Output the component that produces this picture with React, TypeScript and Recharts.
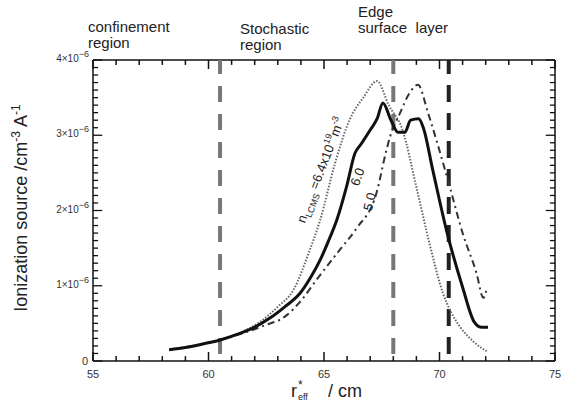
import { LineChart, Line, XAxis, YAxis, ReferenceLine, ReferenceDot } from 'recharts';

// values in units of 1e-6 cm^-3 A^-1, x in cm
const series64 = [
  { r: 58.3, v: 0.15 }, { r: 59.5, v: 0.21 }, { r: 60.5, v: 0.28 }, { r: 61.4, v: 0.38 },
  { r: 62.23, v: 0.52 }, { r: 63.0, v: 0.72 }, { r: 63.67, v: 0.94 }, { r: 64.39, v: 1.48 },
  { r: 64.83, v: 1.87 }, { r: 65.48, v: 2.63 }, { r: 66.1, v: 3.2 }, { r: 66.7, v: 3.5 },
  { r: 67.3, v: 3.72 }, { r: 67.8, v: 3.4 }, { r: 68.4, v: 3.07 }, { r: 69.0, v: 2.31 },
  { r: 69.6, v: 1.52 }, { r: 70.15, v: 0.9 }, { r: 70.5, v: 0.65 }, { r: 70.9, v: 0.45 },
  { r: 71.5, v: 0.25 }, { r: 72.1, v: 0.12 },
];

const series60 = [
  { r: 58.3, v: 0.15 }, { r: 59.0, v: 0.18 }, { r: 59.8, v: 0.23 }, { r: 60.5, v: 0.28 },
  { r: 61.3, v: 0.36 }, { r: 62.0, v: 0.45 }, { r: 62.66, v: 0.57 }, { r: 63.3, v: 0.72 },
  { r: 63.96, v: 0.9 }, { r: 64.4, v: 1.1 }, { r: 64.83, v: 1.34 }, { r: 65.2, v: 1.6 },
  { r: 65.55, v: 1.87 }, { r: 65.98, v: 2.32 }, { r: 66.34, v: 2.76 }, { r: 66.6, v: 2.88 },
  { r: 67.0, v: 3.07 }, { r: 67.3, v: 3.22 }, { r: 67.55, v: 3.43 }, { r: 67.9, v: 3.2 },
  { r: 68.2, v: 3.04 }, { r: 68.5, v: 3.04 }, { r: 68.75, v: 3.2 }, { r: 69.1, v: 3.22 },
  { r: 69.3, v: 3.1 }, { r: 69.7, v: 2.55 }, { r: 70.3, v: 1.74 }, { r: 71.0, v: 0.98 },
  { r: 71.5, v: 0.52 }, { r: 71.8, v: 0.45 }, { r: 72.1, v: 0.45 },
];

const series50 = [
  { r: 58.3, v: 0.15 }, { r: 60.5, v: 0.28 }, { r: 61.5, v: 0.37 }, { r: 62.4, v: 0.47 },
  { r: 63.31, v: 0.59 }, { r: 64.0, v: 0.8 }, { r: 64.68, v: 1.08 }, { r: 65.69, v: 1.48 },
  { r: 66.4, v: 1.76 }, { r: 67.27, v: 2.23 }, { r: 67.7, v: 2.8 }, { r: 67.86, v: 2.98 },
  { r: 68.3, v: 3.3 }, { r: 68.7, v: 3.56 }, { r: 69.07, v: 3.67 }, { r: 69.5, v: 3.3 },
  { r: 69.9, v: 2.9 }, { r: 70.45, v: 2.31 }, { r: 71.0, v: 1.7 }, { r: 71.6, v: 1.17 },
  { r: 71.9, v: 0.84 }, { r: 72.05, v: 0.97 },
];

const regionBounds = [60.5, 68.0, 70.4];

const xTicks = [55, 56, 57, 58, 59, 60, 61, 62, 63, 64, 65, 66, 67, 68, 69, 70, 71, 72, 73, 74, 75];
const yTicks = [
  0, 0.1, 0.2, 0.3, 0.4, 0.5, 0.6, 0.7, 0.8, 0.9, 1, 1.1, 1.2, 1.3, 1.4, 1.5, 1.6, 1.7, 1.8, 1.9,
  2, 2.1, 2.2, 2.3, 2.4, 2.5, 2.6, 2.7, 2.8, 2.9, 3, 3.1, 3.2, 3.3, 3.4, 3.5, 3.6, 3.7, 3.8, 3.9, 4,
];

const curveLabels = [
  { r: 64.83, v: 2.54, text: 'n64', angle: -69 },
  { r: 66.43, v: 2.45, text: '6.0', angle: -70 },
  { r: 66.95, v: 2.12, text: '5.0', angle: -76 },
];

const FONT = '"Liberation Sans", Arial, sans-serif';
const AXIS = '#111';
const X_DOMAIN = [55, 75];
const Y_DOMAIN = [0, 4];

const isMajorX = (v: number) => v % 5 === 0;
const isMajorY = (v: number) => Math.abs(v - Math.round(v)) < 1e-9;

// inward tick marks, lengths in data units (~9px major, ~5px minor)
const xTickLen = (v: number) => (isMajorX(v) ? 0.12 : 0.065);
const yTickLen = (v: number) => (isMajorY(v) ? 0.4 : 0.22);

const BottomTick = (p: any) => {
  const v = p.payload.value;
  if (!isMajorX(v)) return <g />;
  return (
    <text x={p.x} y={p.y + 17} textAnchor="middle" fontSize={11} fill="#333" stroke="none" fontFamily={FONT}>
      {v}
    </text>
  );
};

const LeftTick = (p: any) => {
  const v = p.payload.value;
  if (!isMajorY(v)) return <g />;
  if (v === 0) {
    return (
      <text x={p.x - 5} y={p.y + 4} textAnchor="end" fontSize={11} fill="#333" stroke="none" fontFamily={FONT}>
        0
      </text>
    );
  }
  return (
    <text x={p.x - 4} y={p.y + 2} textAnchor="end" fontSize={10} fill="#333" stroke="none" fontFamily={FONT}>
      {`${Math.round(v)}×10`}
      <tspan dy={-5} fontSize={9}>−6</tspan>
    </text>
  );
};

const CurveLabel = (lab: { text: string; angle: number }) => (p: any) => {
  const { cx, cy } = p;
  const common = {
    transform: `rotate(${lab.angle} ${cx} ${cy})`,
    textAnchor: 'middle' as const,
    fontFamily: FONT,
    fill: '#222',
    fontSize: 13,
  };
  if (lab.text === 'n64') {
    return (
      <text x={cx} y={cy + 5} {...common}>
        n<tspan dy={4} fontSize={9}>LCMS</tspan>
        <tspan dy={-4}> =6.4x10</tspan>
        <tspan dy={-6} fontSize={9}>19</tspan>
        <tspan dy={6}>m</tspan>
        <tspan dy={-6} fontSize={9}>-3</tspan>
      </text>
    );
  }
  return (
    <text x={cx} y={cy + 5} {...common}>
      {lab.text}
    </text>
  );
};

const axisLineStyle = { stroke: AXIS, strokeWidth: 1.5 };

export default function App() {
  return (
    <div style={{ position: 'absolute', left: 0, top: 0, width: 568, height: 403, background: '#fff' }}>
      <div
        style={{ position: 'absolute', left: 0, top: 0, width: 568, height: 58, fontFamily: FONT, fontSize: 15, color: '#222', lineHeight: '16px' }}
      >
        <div style={{ position: 'absolute', left: 88, top: 19 }}>confinement<br />region</div>
        <div style={{ position: 'absolute', left: 240, top: 21 }}>Stochastic<br />region</div>
        <div style={{ position: 'absolute', left: 358, top: 4 }}>Edge<br />surface{'\u00A0\u00A0'}layer</div>
      </div>
      <LineChart width={568} height={403} margin={{ top: 60, right: 13, bottom: 0, left: 0 }}>
        <XAxis
          type="number"
          dataKey="r"
          domain={X_DOMAIN}
          ticks={xTicks}
          interval={0}
          height={42}
          tickSize={0}
          tickMargin={0}
          tick={<BottomTick />}
          tickLine={false}
          axisLine={axisLineStyle}
          label={{
            content: () => (
              <g fontFamily={FONT} fill="#222">
                <text x={291} y={397} fontSize={18}>r</text>
                <text x={298} y={389} fontSize={12}>*</text>
                <text x={298} y={400} fontSize={9}>eff</text>
                <text x={328} y={397} fontSize={18}>/ cm</text>
              </g>
            ),
          }}
        />
        <YAxis
          type="number"
          domain={Y_DOMAIN}
          ticks={yTicks}
          interval={0}
          width={93}
          tickSize={0}
          tickMargin={0}
          tick={<LeftTick />}
          tickLine={false}
          axisLine={axisLineStyle}
          label={{
            content: () => (
              <text x={27} y={208} fontSize={18} fill="#222" fontFamily={FONT} textAnchor="middle" transform="rotate(-90 27 208)">
                Ionization source /cm<tspan dy={-7} fontSize={12}>-3</tspan>
                <tspan dy={7}> A</tspan>
                <tspan dy={-7} fontSize={12}>-1</tspan>
              </text>
            ),
          }}
        />
        {/* top and right frame lines */}
        <ReferenceLine y={Y_DOMAIN[1]} stroke={AXIS} strokeWidth={1.5} />
        <ReferenceLine x={X_DOMAIN[1]} stroke={AXIS} strokeWidth={1.5} />
        {xTicks.map((t) => (
          <ReferenceLine key={`xb${t}`} ifOverflow="visible" segment={[{ x: t, y: Y_DOMAIN[0] }, { x: t, y: Y_DOMAIN[0] + xTickLen(t) }]} stroke={AXIS} strokeWidth={1.5} />
        ))}
        {xTicks.map((t) => (
          <ReferenceLine key={`xt${t}`} ifOverflow="visible" segment={[{ x: t, y: Y_DOMAIN[1] }, { x: t, y: Y_DOMAIN[1] - xTickLen(t) }]} stroke={AXIS} strokeWidth={1.5} />
        ))}
        {yTicks.map((t) => (
          <ReferenceLine key={`yl${t}`} ifOverflow="visible" segment={[{ x: X_DOMAIN[0], y: t }, { x: X_DOMAIN[0] + yTickLen(t), y: t }]} stroke={AXIS} strokeWidth={1.3} />
        ))}
        {yTicks.map((t) => (
          <ReferenceLine key={`yr${t}`} ifOverflow="visible" segment={[{ x: X_DOMAIN[1], y: t }, { x: X_DOMAIN[1] - yTickLen(t), y: t }]} stroke={AXIS} strokeWidth={1.3} />
        ))}
        <ReferenceLine x={regionBounds[0]} stroke="#777" strokeWidth={4} strokeDasharray="16 12" strokeDashoffset={-7} />
        <ReferenceLine x={regionBounds[1]} stroke="#777" strokeWidth={4} strokeDasharray="16 12" strokeDashoffset={-7} />
        <ReferenceLine x={regionBounds[2]} stroke="#222" strokeWidth={4} strokeDasharray="17 11" strokeDashoffset={-7} />
        <Line data={series64} dataKey="v" type="monotoneX" stroke="#666" strokeWidth={2} strokeDasharray="1.5 1.6" dot={false} isAnimationActive={false} />
        <Line data={series50} dataKey="v" type="monotoneX" stroke="#333" strokeWidth={2} strokeDasharray="7 4 2 4" dot={false} isAnimationActive={false} />
        <Line data={series60} dataKey="v" type="monotoneX" stroke="#111" strokeWidth={3} dot={false} isAnimationActive={false} />
        {curveLabels.map((lab) => (
          <ReferenceDot key={lab.text} x={lab.r} y={lab.v} r={0} shape={CurveLabel(lab)} />
        ))}
      </LineChart>
    </div>
  );
}
